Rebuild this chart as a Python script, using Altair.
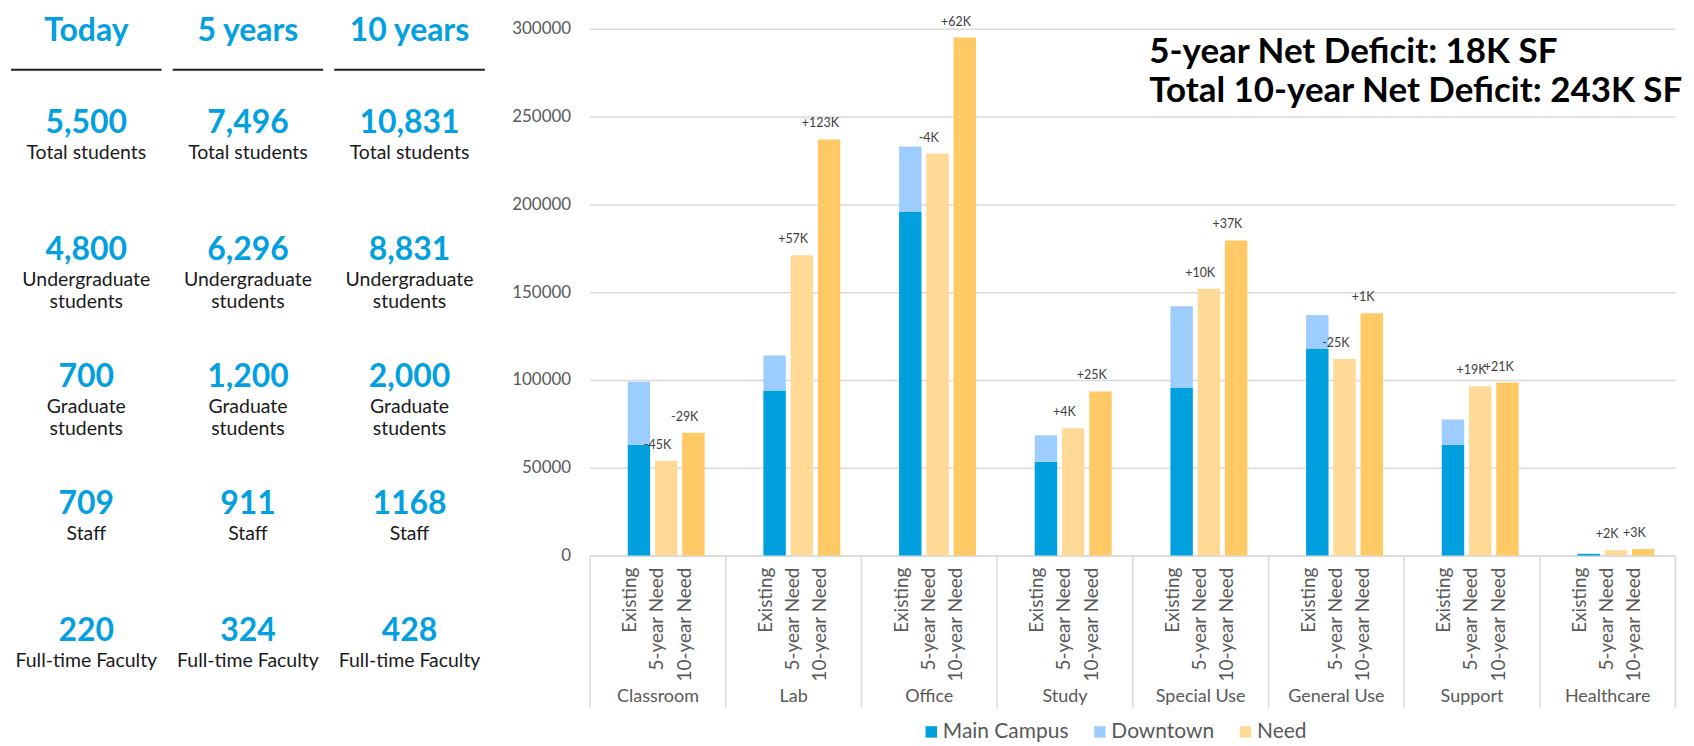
import altair as alt
import pandas as pd

# ---------------- left panel data ----------------
periods = ["Today", "5 years", "10 years"]
metric_names = ["Total students", "Undergraduate\nstudents", "Graduate\nstudents",
                "Staff", "Full-time Faculty"]
total_students = ["5,500", "7,496", "10,831"]
undergrad_students = ["4,800", "6,296", "8,831"]
grad_students = ["700", "1,200", "2,000"]
staff = ["709", "911", "1168"]
faculty = ["220", "324", "428"]

# ---------------- bar chart data ----------------
categories = ["Classroom", "Lab", "Office", "Study", "Special Use",
              "General Use", "Support", "Healthcare"]
bar_groups = ["Existing", "5-year Need", "10-year Need"]
main_campus = [63000, 94000, 196000, 53500, 95500, 118000, 63000, 1000]
downtown = [36000, 20000, 37000, 15000, 46500, 19000, 14500, 0]
need_5yr = [54000, 171000, 229000, 72500, 152000, 112000, 96500, 3000]
need_10yr = [70000, 237000, 295000, 93500, 179500, 138000, 98500, 3700]
delta_5yr = ["-45K", "+57K", "-4K", "+4K", "+10K", "-25K", "+19K", "+2K"]
delta_10yr = ["-29K", "+123K", "+62K", "+25K", "+37K", "+1K", "+21K", "+3K"]
summary_lines = ["5-year Net Deficit: 18K SF", "Total 10-year Net Deficit: 243K SF"]

series_names = ["Main Campus", "Downtown", "Need", "10-year Need"]
legend_names = ["Main Campus", "Downtown", "Need"]
series_colors = ["#009FDE", "#9DCDFF", "#FFDA96", "#FFC966"]

BLUE = "#02A0E1"
GRAY = "#595959"
GRID = "#DADADA"

# ---------------- left panel ----------------
metric_values = [total_students, undergrad_students, grad_students, staff, faculty]
left_rows = []
for name, vals in zip(metric_names, metric_values):
    for p, v in zip(periods, vals):
        left_rows.append({"period": p, "metric": name, "value": v})
left_df = pd.DataFrame(left_rows)
period_df = pd.DataFrame({"period": periods})

lx = alt.X("period:N", scale=alt.Scale(domain=periods, paddingInner=0.068, paddingOuter=0),
           axis=None)
ly = alt.Y("metric:N", scale=alt.Scale(type="point", domain=metric_names, range=[104, 614],
                                       padding=0),
           axis=None)

header = alt.Chart(period_df).mark_text(
    fontSize=32, fontWeight="bold", color=BLUE, baseline="alphabetic"
).encode(x=lx, y=alt.value(12), text="period:N")

underline = alt.Chart(period_df).mark_rect(color="#1F1F1F").encode(
    x=lx, y=alt.value(40), y2=alt.value(42)
)

numbers = alt.Chart(left_df).mark_text(
    fontSize=32, fontWeight="bold", color=BLUE, baseline="alphabetic"
).encode(x=lx, y=ly, text="value:N")

labels = alt.Chart(left_df).mark_text(
    fontSize=19.5, color="#1A1A1A", baseline="alphabetic", dy=26,
    lineBreak="\n", lineHeight=22
).encode(x=lx, y=ly, text="metric:N")

left = alt.layer(header, underline, numbers, labels).properties(width=475, height=528)

# ---------------- right panel ----------------
bar_rows = []
label_rows = []
sub_rows = []
for c, m, d, n5, n10, l5, l10 in zip(categories, main_campus, downtown, need_5yr,
                                      need_10yr, delta_5yr, delta_10yr):
    bar_rows += [
        {"category": c, "group": "Existing", "series": "Main Campus", "value": m, "ord": 0},
        {"category": c, "group": "Existing", "series": "Downtown", "value": d, "ord": 1},
        {"category": c, "group": "5-year Need", "series": "Need", "value": n5, "ord": 0},
        {"category": c, "group": "10-year Need", "series": "10-year Need", "value": n10, "ord": 0},
    ]
    label_rows += [
        {"category": c, "group": "5-year Need", "value": n5, "label": l5},
        {"category": c, "group": "10-year Need", "value": n10, "label": l10},
    ]
    for g in bar_groups:
        sub_rows.append({"category": c, "group": g})
bar_df = pd.DataFrame(bar_rows)
label_df = pd.DataFrame(label_rows)
sub_df = pd.DataFrame(sub_rows)

rx = alt.X(
    "category:N",
    scale=alt.Scale(domain=categories, paddingInner=0, paddingOuter=0),
    axis=alt.Axis(title=None, labelAngle=0, tickBand="extent", tickSize=152,
                  tickColor=GRID, tickWidth=1.5, domainColor=GRID, domainWidth=1.5,
                  labelFontSize=18, labelColor=GRAY, labelPadding=-11,
                  labelBaseline="middle"),
)
rxo = alt.XOffset("group:N", scale=alt.Scale(domain=bar_groups, paddingInner=0.02,
                                             paddingOuter=1))
ry = alt.Y(
    "value:Q", stack="zero",
    scale=alt.Scale(domain=[0, 300000]),
    axis=alt.Axis(title=None, values=[0, 50000, 100000, 150000, 200000, 250000, 300000],
                  format="d", grid=True, gridColor=GRID, gridWidth=1.5, domain=False,
                  ticks=False, labelFontSize=17, labelColor=GRAY, labelPadding=19),
)

bars = alt.Chart(bar_df).mark_bar(width=alt.RelativeBandSize(0.84)).encode(
    x=rx, xOffset=rxo, y=ry,
    color=alt.Color(
        "series:N",
        scale=alt.Scale(domain=series_names, range=series_colors),
        legend=alt.Legend(title=None, orient="none", legendX=912, legendY=694,
                          direction="horizontal", values=legend_names,
                          symbolType="square", symbolSize=132, symbolStrokeWidth=0,
                          symbolOpacity=1, labelFontSize=21, labelColor=GRAY,
                          labelOffset=1, columnPadding=20),
    ),
    order=alt.Order("ord:Q"),
)

deltas = alt.Chart(label_df).mark_text(
    dy=-16, baseline="middle", fontSize=12.5, color="#404040"
).encode(x="category:N", xOffset="group:N", y="value:Q", text="label:N")

sublabels = alt.Chart(sub_df).mark_text(
    angle=270, align="right", baseline="middle", fontSize=19, color=GRAY
).encode(x="category:N", xOffset="group:N", y=alt.value(540), text="group:N")

summary = alt.Chart(alt.Data(values=[{"lines": summary_lines}])).mark_text(
    align="left", baseline="alphabetic", fontSize=35, fontWeight="bold",
    lineHeight=39, color="#000000"
).encode(x=alt.value(561), y=alt.value(34), text="lines:N")

right = alt.layer(bars, deltas, sublabels, summary).properties(width=1088, height=528)

chart = alt.hconcat(left, right, spacing=105).properties(
    bounds="flush",
    padding={"left": 2, "top": 6, "right": 2, "bottom": 0},
).configure(font="Lato").configure_view(stroke=None)

chart.save("out.html", embed_options={"renderer": "svg", "actions": False})
